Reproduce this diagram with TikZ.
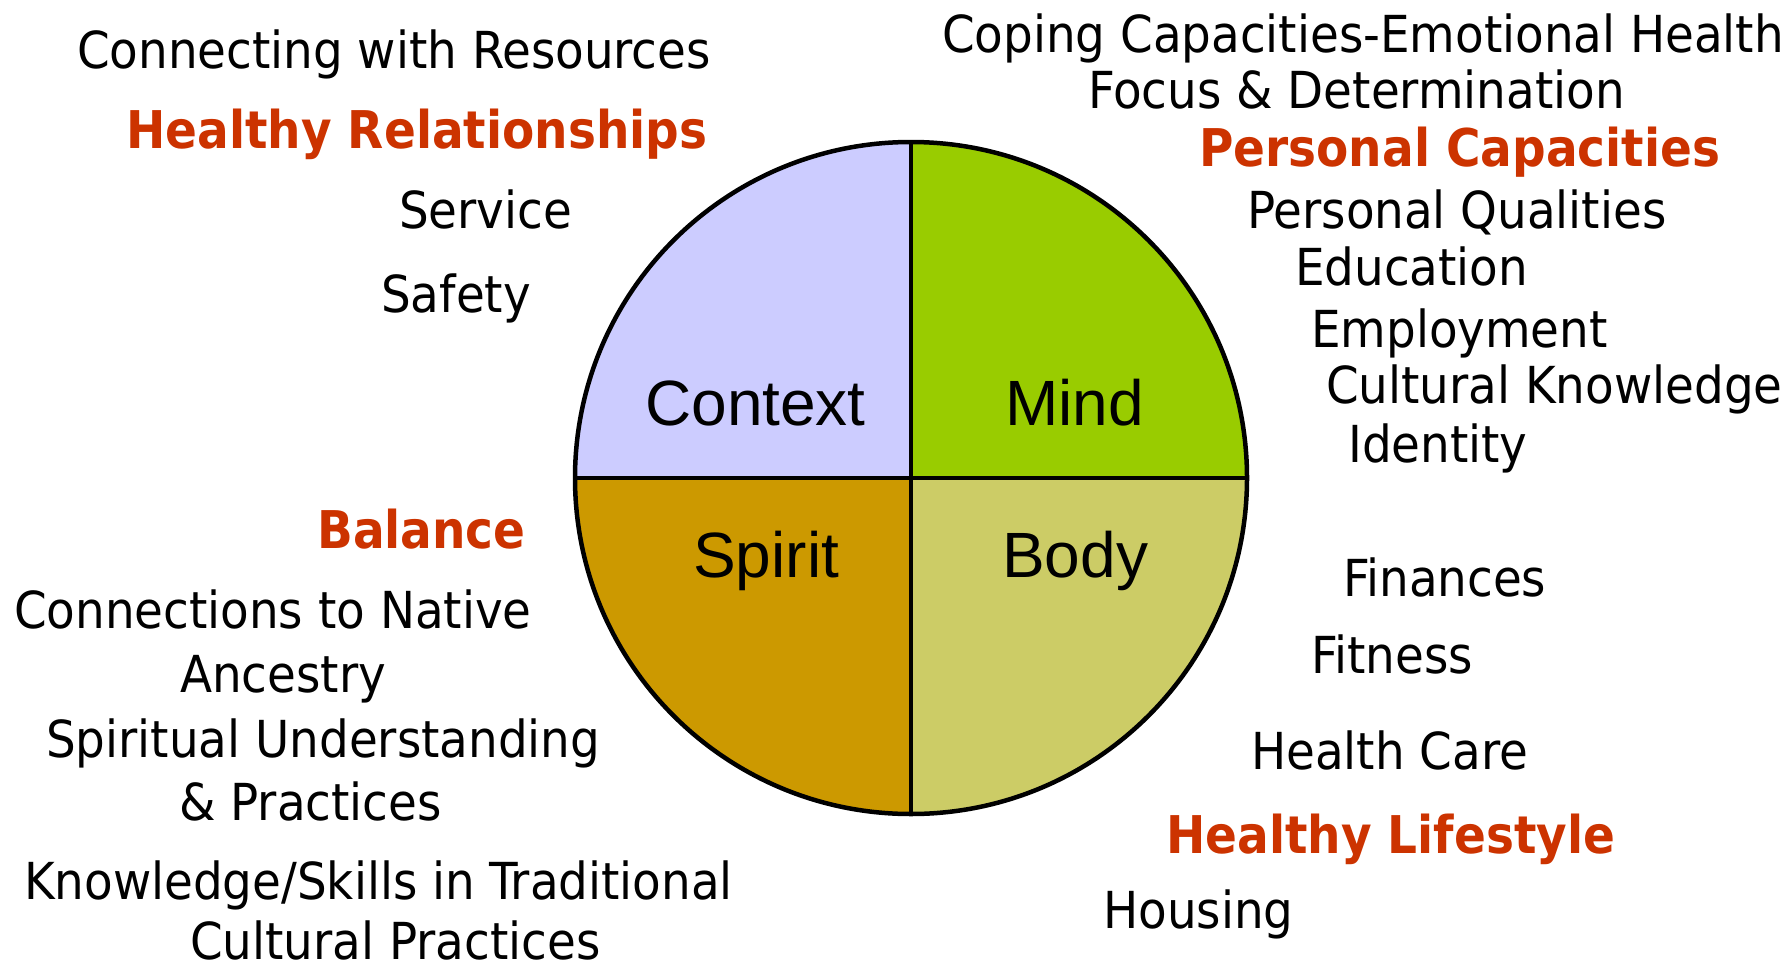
\documentclass[tikz,border=0pt]{standalone}
\usepackage{fontspec}
\setmainfont[FakeStretch=1.02, BoldFeatures={FakeStretch=1.004}]{DejaVu Sans Condensed}
\newfontfamily\arialf{Liberation Sans}
\definecolor{hdred}{RGB}{204,51,0}
\definecolor{ctxc}{RGB}{204,204,255}
\definecolor{mindc}{RGB}{153,204,0}
\definecolor{spiritc}{RGB}{204,153,0}
\definecolor{bodyc}{RGB}{204,204,102}
\begin{document}
\begin{tikzpicture}[x=1pt,y=1pt,
  lbl/.style={anchor=base west, inner sep=0pt, font=\fontsize{51}{60}\selectfont},
  hd/.style={anchor=base west, inner sep=0pt, text=hdred, font=\fontsize{52}{60}\selectfont\bfseries},
  quad/.style={anchor=base west, inner sep=0pt, font=\arialf\fontsize{64}{70}\selectfont},
  rim/.style={line width=4.5pt, black}]
\useasboundingbox (0,0) rectangle (1782,-969);
\def\R{336}
\coordinate (c) at (911,-478);
\coordinate (w) at (575,-478);
\coordinate (e) at (1247,-478);
\coordinate (n) at (911,-142);
\coordinate (s) at (911,-814);
\fill[ctxc] (c) -- (w) arc[start angle=180,end angle=90,radius=\R] -- cycle;
\fill[mindc] (c) -- (n) arc[start angle=90,end angle=0,radius=\R] -- cycle;
\fill[bodyc] (c) -- (e) arc[start angle=0,end angle=-90,radius=\R] -- cycle;
\fill[spiritc] (c) -- (s) arc[start angle=270,end angle=180,radius=\R] -- cycle;
\draw[rim] (c) circle[radius=\R];
\draw[rim] (w) -- (e);
\draw[rim] (n) -- (s);
% quadrant labels
\node[quad] (qctx) at (645,-425) {Context};
\node[quad] (qmind) at (1005,-425) {Mind};
\node[quad] (qspirit) at (693,-577) {Spirit};
\node[quad] (qbody) at (1002,-577) {Body};
% upper left
\node[lbl] (t1) at (77,-68) {Connecting with Resources};
\node[hd] (h1) at (126,-148) {Healthy Relationships};
\node[lbl] (t2) at (399,-228) {Service};
\node[lbl] (t3) at (381,-312) {Safety};
% lower left
\node[hd] (h2) at (317,-548) {Balance};
\node[lbl] (t4) at (14,-628) {Connections to Native};
\node[lbl] (t5) at (180,-692) {Ancestry};
\node[lbl] (t6) at (46,-757) {Spiritual Understanding};
\node[lbl] (t7) at (179,-820) {\& Practices};
\node[lbl] (t8) at (24,-899) {Knowledge/Skills in Traditional};
\node[lbl, text depth=0pt] (t9) at (190,-959) {Cultural Practices};
% upper right
\node[lbl] (t10) at (942,-52) {Coping Capacities-Emotional Health};
\node[lbl] (t11) at (1088,-108) {Focus \& Determination};
\node[hd] (h3) at (1199,-166) {Personal Capacities};
\node[lbl] (t12) at (1247,-228) {Personal Qualities};
\node[lbl] (t13) at (1295,-285) {Education};
\node[lbl] (t14) at (1311,-347) {Employment};
\node[lbl] (t15) at (1326,-403) {Cultural Knowledge};
\node[lbl] (t16) at (1348,-462) {Identity};
% lower right
\node[lbl] (t17) at (1343,-596) {Finances};
\node[lbl] (t18) at (1311,-673) {Fitness};
\node[lbl] (t19) at (1251,-769) {Health Care};
\node[hd] (h4) at (1166,-853) {Healthy Lifestyle};
\node[lbl] (t20) at (1103,-928) {Housing};
\end{tikzpicture}
\end{document}
